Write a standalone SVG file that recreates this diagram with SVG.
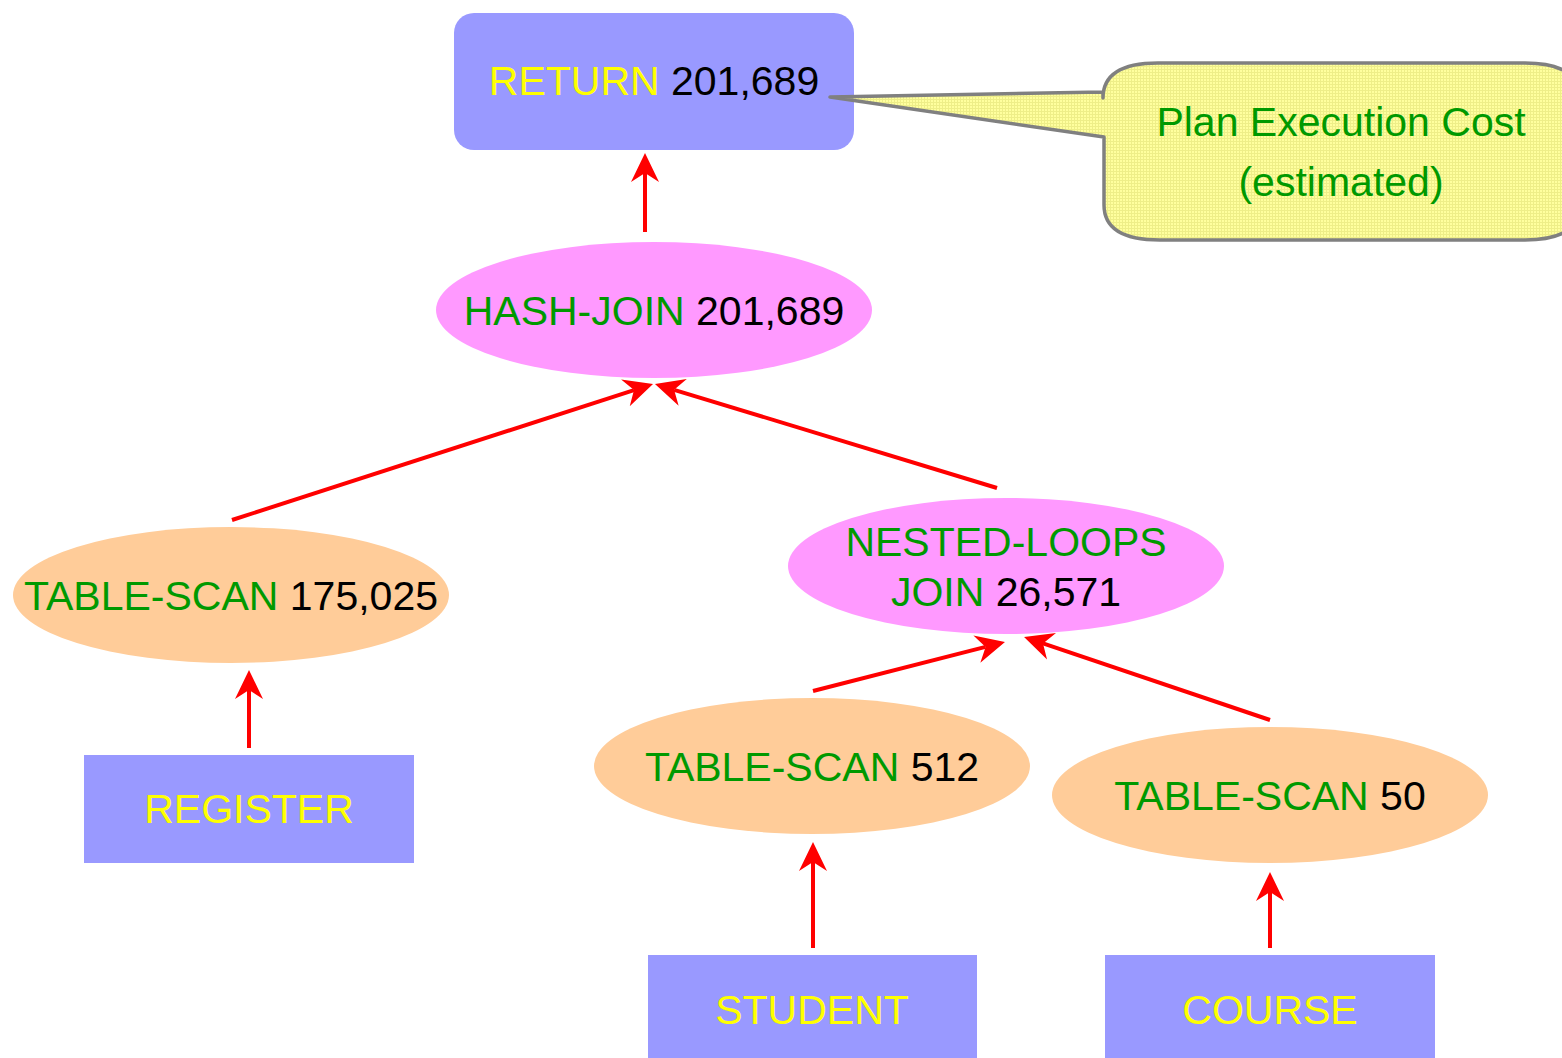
<svg xmlns="http://www.w3.org/2000/svg" width="1562" height="1058" viewBox="0 0 1562 1058">
<style>
text{font-family:"Liberation Sans",Arial,sans-serif;font-size:41px;text-anchor:middle}
.g{fill:#009900}.y{fill:#FFFF00}.k{fill:#000000}
.box{fill:#9999FF}
.pink{fill:#FF99FF}
.peach{fill:#FFCC99}
.arr{stroke:#FF0000;stroke-width:4;fill:none;marker-end:url(#ah)}
</style>
<defs>
<marker id="ah" markerUnits="userSpaceOnUse" orient="auto" refX="0" refY="0" markerWidth="40" markerHeight="40" overflow="visible">
<path d="M20,0 L-9,-14 L0,0 L-9,14 Z" fill="#FF0000"/>
</marker>
<pattern id="grid" width="3" height="3" patternUnits="userSpaceOnUse">
<rect width="3" height="3" fill="#FFFF9E"/>
<path d="M0,0.5H3M0.5,0V3" stroke="#EEEE88" stroke-width="1"/>
</pattern>
</defs>
<g id="return">
<rect x="454" y="13" width="400" height="137" rx="20" class="box"/>
<text x="654" y="95"><tspan class="y">RETURN</tspan><tspan class="k"> 201,689</tspan></text>
</g>
<g id="callout">
<path d="M830,97 L1103,92 L1103,98 Q1103,63 1158,63 L1525,63 Q1580,63 1580,98 L1580,205 Q1580,240 1525,240 L1160,240 Q1104,240 1104,205 L1104,137 Z" fill="url(#grid)" stroke="#808080" stroke-width="3.5" stroke-linejoin="round"/>
<text x="1341" y="136" class="g">Plan Execution Cost</text>
<text x="1341" y="196" class="g">(estimated)</text>
</g>
<g id="hashjoin">
<ellipse cx="654" cy="310" rx="218" ry="68" class="pink"/>
<text x="654" y="325"><tspan class="g">HASH-JOIN</tspan><tspan class="k"> 201,689</tspan></text>
</g>
<g id="scan-register">
<ellipse cx="231" cy="595" rx="218" ry="68" class="peach"/>
<text x="231" y="610"><tspan class="g">TABLE-SCAN</tspan><tspan class="k"> 175,025</tspan></text>
</g>
<g id="nestedloops">
<ellipse cx="1006" cy="566" rx="218" ry="68" class="pink"/>
<text x="1006" y="556" class="g">NESTED-LOOPS</text>
<text x="1006" y="606"><tspan class="g">JOIN</tspan><tspan class="k"> 26,571</tspan></text>
</g>
<g id="scan-student">
<ellipse cx="812" cy="766" rx="218" ry="68" class="peach"/>
<text x="812" y="781"><tspan class="g">TABLE-SCAN</tspan><tspan class="k"> 512</tspan></text>
</g>
<g id="scan-course">
<ellipse cx="1270" cy="795" rx="218" ry="68" class="peach"/>
<text x="1270" y="810"><tspan class="g">TABLE-SCAN</tspan><tspan class="k"> 50</tspan></text>
</g>
<g id="register">
<rect x="84" y="755" width="330" height="108" class="box"/>
<text x="249" y="823" class="y">REGISTER</text>
</g>
<g id="student">
<rect x="648" y="955" width="329" height="110" class="box"/>
<text x="812" y="1024" class="y">STUDENT</text>
</g>
<g id="course">
<rect x="1105" y="955" width="330" height="110" class="box"/>
<text x="1270" y="1024" class="y">COURSE</text>
</g>
<g id="connectors">
<line x1="645" y1="232" x2="645" y2="173" class="arr"/>
<line x1="232" y1="520" x2="634" y2="390.1" class="arr"/>
<line x1="997" y1="488" x2="674.1" y2="389.8" class="arr"/>
<line x1="249" y1="748" x2="249" y2="690" class="arr"/>
<line x1="813" y1="691" x2="985.6" y2="646.9" class="arr"/>
<line x1="1270" y1="720" x2="1043" y2="643.4" class="arr"/>
<line x1="813" y1="948" x2="813" y2="862" class="arr"/>
<line x1="1270" y1="948" x2="1270" y2="892" class="arr"/>
</g>
</svg>
